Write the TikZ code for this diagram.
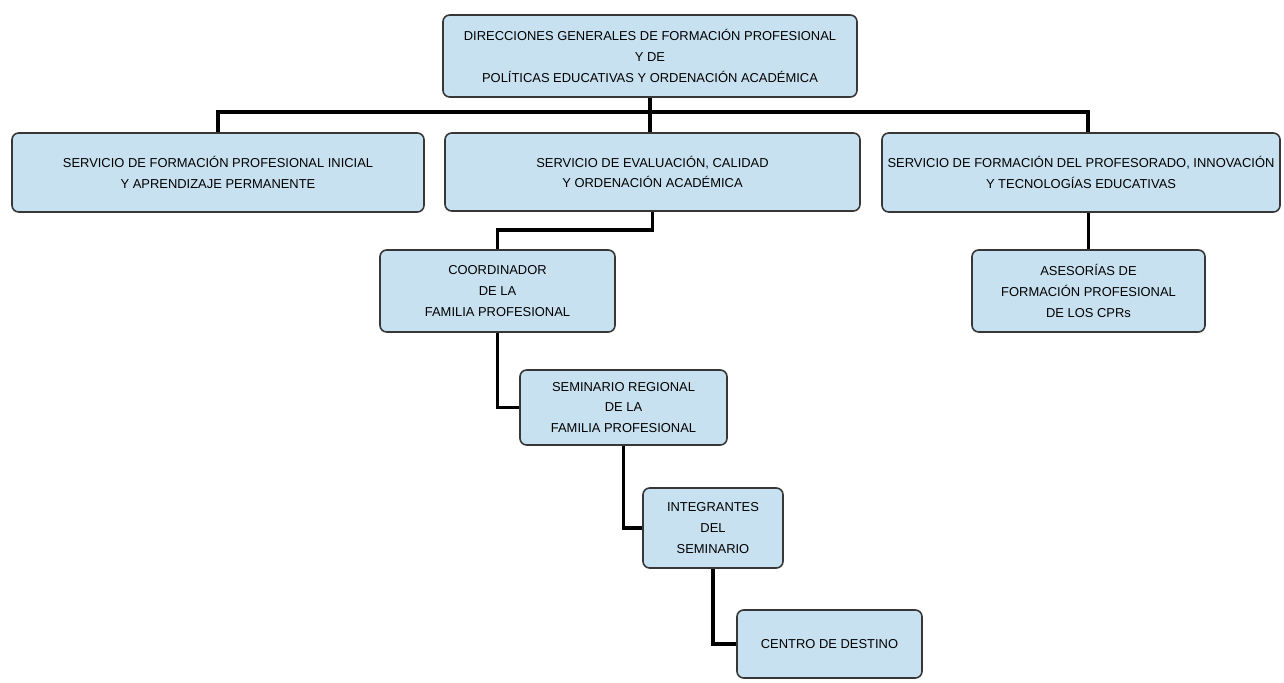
\documentclass[tikz,border=0pt]{standalone}
\usepackage{fontspec}
\setmainfont{Liberation Sans}
\usetikzlibrary{calc}
\definecolor{boxfill}{RGB}{200,225,240}
\definecolor{boxline}{RGB}{55,55,55}
\tikzset{
  orgbox/.style={draw=boxline, line width=1.2pt, fill=boxfill, rounded corners=5pt,
    align=center, inner sep=0pt, font=\fontsize{9.7}{15.5}\selectfont},
  link/.style={draw=black, line width=2.6pt}
}
\begin{document}
\begin{tikzpicture}[x=0.75pt,y=-0.75pt]
\useasboundingbox (0,0) rectangle (1284,682);
\node[orgbox, minimum width=414*0.75pt, minimum height=82*0.75pt] (top) at (650,56)
  {DIRECCIONES GENERALES DE FORMACIÓN PROFESIONAL\\ Y DE\\ POLÍTICAS EDUCATIVAS Y ORDENACIÓN ACADÉMICA};
\node[orgbox, minimum width=412*0.75pt, minimum height=79*0.75pt] (b1) at (218,172.5)
  {SERVICIO DE FORMACIÓN PROFESIONAL INICIAL\\ Y APRENDIZAJE PERMANENTE};
\node[orgbox, minimum width=415*0.75pt, minimum height=78*0.75pt] (b2) at (652.5,172)
  {SERVICIO DE EVALUACIÓN, CALIDAD\\ Y ORDENACIÓN ACADÉMICA};
\node[orgbox, minimum width=398*0.75pt, minimum height=79*0.75pt] (b3) at (1081,172.5)
  {SERVICIO DE FORMACIÓN DEL PROFESORADO, INNOVACIÓN\\ Y TECNOLOGÍAS EDUCATIVAS};
\node[orgbox, minimum width=235*0.75pt, minimum height=82*0.75pt] (coord) at (497.5,291)
  {COORDINADOR\\ DE LA\\ FAMILIA PROFESIONAL};
\node[orgbox, minimum width=233*0.75pt, minimum height=82*0.75pt] (ases) at (1088.5,291)
  {ASESORÍAS DE\\ FORMACIÓN PROFESIONAL\\ DE LOS CPRs};
\node[orgbox, minimum width=207*0.75pt, minimum height=75*0.75pt] (sem) at (623.5,407.5)
  {SEMINARIO REGIONAL\\ DE LA\\ FAMILIA PROFESIONAL};
\node[orgbox, minimum width=140*0.75pt, minimum height=80*0.75pt] (int) at (713,528)
  {INTEGRANTES\\ DEL\\ SEMINARIO};
\node[orgbox, minimum width=185*0.75pt, minimum height=68*0.75pt] (cen) at (829.5,644)
  {CENTRO DE DESTINO};
\coordinate (bus) at (650,112);
\draw[link] (top.south) -- (bus);
\draw[link] (b1.north) |- (bus);
\draw[link] ($(b3.north)+(7,0)$) |- (bus);
\draw[link] (bus) -- (bus |- b2.north);
\draw[link] (b2.south) -- ++(0,18) -| (coord.north);
\draw[link] (b3.south -| ases.north) -- (ases.north);
\draw[link] (coord.south) |- (sem.west);
\draw[link] (sem.south) |- (int.west);
\draw[link] (int.south) |- (cen.west);
\end{tikzpicture}
\end{document}
